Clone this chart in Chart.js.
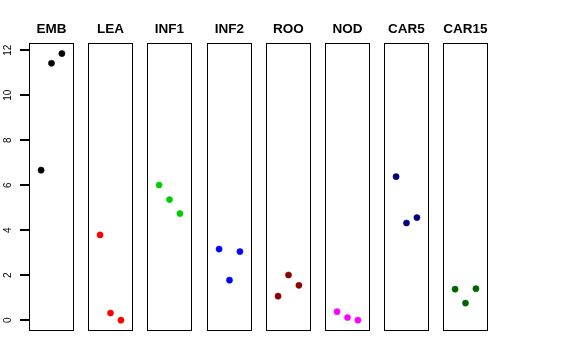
<!DOCTYPE html>
<html>
<head>
<meta charset="utf-8">
<script src="https://cdn.jsdelivr.net/npm/chart.js@4.4.1/dist/chart.umd.min.js"></script>
<style>
  html, body { margin: 0; padding: 0; background: #fff; }
  #wrap { position: relative; width: 576px; height: 360px; overflow: hidden; }
  #wrap canvas { position: absolute; top: 0; }
</style>
</head>
<body>
<div id="wrap"></div>
<script>
// panel names and their point values (three per panel, drawn at x = 1, 2, 3)
const categories = ['EMB', 'LEA', 'INF1', 'INF2', 'ROO', 'NOD', 'CAR5', 'CAR15'];
const embValues = [6.67, 11.42, 11.85];
const leaValues = [3.79, 0.32, 0.0];
const inf1Values = [6.01, 5.36, 4.74];
const inf2Values = [3.16, 1.78, 3.05];
const rooValues = [1.07, 2.01, 1.55];
const nodValues = [0.38, 0.12, 0.0];
const car5Values = [6.38, 4.32, 4.56];
const car15Values = [1.38, 0.76, 1.40];
const seriesValues = [embValues, leaValues, inf1Values, inf2Values, rooValues, nodValues, car5Values, car15Values];
const yTicks = [0, 2, 4, 6, 8, 10, 12];

const colors = ['#000000', '#ff0000', '#00cd00', '#0000ff', '#8b0000', '#ff00ff', '#000080', '#006400'];

const wrap = document.getElementById('wrap');
const panelWidth = 45;

// box around the plot area
const boxPlugin = {
    id: 'box',
    afterDraw(chart) {
        const a = chart.chartArea;
        const ctx = chart.ctx;
        ctx.save();
        ctx.strokeStyle = '#000';
        ctx.lineWidth = 1;
        ctx.strokeRect(Math.round(a.left) + 0.5, Math.round(a.top) + 0.5,
            Math.round(a.right - a.left) - 1, Math.round(a.bottom - a.top) - 1);
        ctx.restore();
    }
};

// left axis: tick marks and rotated labels, like base R
const yAxisPlugin = {
    id: 'yAxisR',
    afterDraw(chart) {
        const y = chart.scales.y;
        const left = Math.round(chart.chartArea.left);
        const ctx = chart.ctx;
        ctx.save();
        ctx.fillStyle = '#000000';
        ctx.font = '10px "Liberation Sans", Arial, sans-serif';
        ctx.textAlign = 'center';
        ctx.textBaseline = 'middle';
        yTicks.forEach(t => {
            const py = y.getPixelForValue(t);
            ctx.fillRect(left - 9, Math.round(py) - 1, 9, 2);
            ctx.save();
            ctx.translate(8, py);
            ctx.rotate(-Math.PI / 2);
            ctx.fillText(String(t), 0, 0);
            ctx.restore();
        });
        ctx.restore();
    }
};

categories.forEach((name, i) => {
    const panelLeft = Math.round(29 + i * 59.2);
    const first = i === 0;
    const padLeft = first ? panelLeft : 2;
    const canvas = document.createElement('canvas');
    canvas.width = padLeft + panelWidth + 2;
    canvas.height = 360;
    canvas.style.left = (panelLeft - padLeft) + 'px';
    canvas.style.width = canvas.width + 'px';
    canvas.style.height = '360px';
    wrap.appendChild(canvas);

    new Chart(canvas.getContext('2d'), {
        type: 'scatter',
        data: {
            datasets: [{
                data: seriesValues[i].map((v, j) => ({ x: j + 1, y: v })),
                backgroundColor: colors[i],
                borderColor: colors[i],
                borderWidth: 0.5,
                pointRadius: 3.1
            }]
        },
        options: {
            responsive: false,
            animation: false,
            devicePixelRatio: 1,
            layout: {
                autoPadding: false,
                padding: { top: 21.6, bottom: 29, left: padLeft, right: 2 }
            },
            plugins: {
                legend: { display: false },
                tooltip: { enabled: false },
                title: {
                    display: true,
                    text: name,
                    color: '#000',
                    font: { family: '"Liberation Sans", Arial, sans-serif', size: 13.5, weight: 'bold' },
                    padding: { top: 0, bottom: 5.2 }
                }
            },
            scales: {
                x: { type: 'linear', min: -0.16, max: 4.16, display: false },
                y: { type: 'linear', min: -0.48, max: 12.32, display: false }
            }
        },
        plugins: first ? [boxPlugin, yAxisPlugin] : [boxPlugin]
    });
});
</script>
</body>
</html>
